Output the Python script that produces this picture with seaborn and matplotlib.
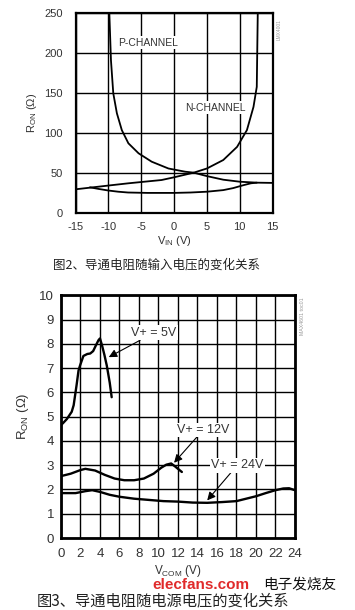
import numpy as np
import pandas as pd
import matplotlib.pyplot as plt
import seaborn as sns

# --- Fig.2: R_ON vs V_IN ---
p_vin = [-9.85, -9.6, -9.25, -8.7, -7.95, -6.95, -5.4, -3.4, -0.85, 1.7, 3.0, 5.0, 7.5, 10.0, 12.6, 15.0]
p_ron = [250, 191, 150, 125, 104, 87.5, 75, 64.5, 56, 52, 50.8, 46.5, 42, 39.5, 38.3, 38]
n_vin = [12.75, 12.6, 12.1, 11.1, 9.6, 7.5, 5.0, 3.0, 0.0, -1.9, -4.5, -6.95, -10.0, -12.0, -15.0]
n_ron = [250, 158, 133, 104, 83, 66.6, 56, 50.8, 45, 41.6, 39.5, 37.5, 34.7, 32.8, 30]
c_vin = [-12.8, -11.5, -10.0, -8.5, -7.0, -4.0, 0.0, 2.5, 5.0, 7.5, 9.0, 10.5, 11.7, 12.6]
c_ron = [32.5, 30.5, 28.5, 27, 26, 25.5, 25.5, 26, 27, 29, 31.5, 35, 37.5, 38.3]
vin_ticks = [-15, -10, -5, 0, 5, 10, 15]
ron_ticks = [0, 50, 100, 150, 200, 250]

# --- Fig.3: R_ON vs V_COM ---
v5_com = [0, 0.25, 0.6, 1.1, 1.3, 1.6, 1.8, 1.95, 2.3, 2.7, 3.0, 3.3, 3.6, 3.85, 4.0, 4.2, 4.45, 4.7, 5.0, 5.2]
v5_ron = [4.65, 4.75, 4.9, 5.2, 5.47, 6.3, 6.9, 7.1, 7.5, 7.58, 7.6, 7.7, 7.95, 8.15, 8.22, 7.95, 7.55, 7.1, 6.4, 5.8]
v12_com = [0, 1, 2, 2.5, 3.5, 4.5, 5.5, 6.5, 7.5, 8.5, 9.5, 10.3, 10.8, 11.3, 11.7, 12.0, 12.4]
v12_ron = [2.55, 2.65, 2.8, 2.85, 2.78, 2.6, 2.45, 2.38, 2.38, 2.45, 2.65, 2.9, 3.02, 3.07, 2.95, 2.85, 2.72]
v24_com = [0, 1.5, 2.5, 3.2, 4, 5, 6, 7.5, 9, 10.5, 12, 13.5, 15, 16.5, 18, 19, 20, 21, 22, 22.8, 23.4, 24]
v24_ron = [1.85, 1.85, 1.93, 1.97, 1.9, 1.78, 1.7, 1.62, 1.57, 1.52, 1.5, 1.46, 1.45, 1.48, 1.52, 1.62, 1.72, 1.85, 1.97, 2.04, 2.05, 1.97]
com_ticks = list(range(0, 25, 2))
ron2_ticks = list(range(0, 11))

sns.set_style("white")
plt.rcParams['font.family'] = ['Liberation Sans', 'Noto Sans CJK SC', 'DejaVu Sans']
plt.rcParams['mathtext.fontset'] = 'custom'
plt.rcParams['mathtext.rm'] = 'Liberation Sans'
plt.rcParams['mathtext.it'] = 'Liberation Sans'
plt.rcParams['axes.unicode_minus'] = False
txt = '#333333'

fig = plt.figure(figsize=(3.55, 6.1), dpi=100)
ax1 = fig.add_axes([0.2127, 0.6503, 0.555, 0.328])
ax2 = fig.add_axes([0.1718, 0.118, 0.659, 0.398])

# ---- top chart ----
for xs, ys in [(p_vin, p_ron), (n_vin, n_ron), (c_vin, c_ron)]:
    sns.lineplot(x=xs, y=ys, ax=ax1, sort=False, estimator=None, color='black', lw=1.3)
ax1.set_xlim(-15, 15)
ax1.set_ylim(0, 250)
ax1.set_xticks(vin_ticks)
ax1.set_yticks(ron_ticks)
ax1.grid(True, color='black', lw=1.0)
ax1.tick_params(length=0, labelsize=8, colors=txt, pad=9)
ax1.tick_params(axis='x', pad=6)
for s in ax1.spines.values():
    s.set_linewidth(1.6)
    s.set_color('black')
ax1.set_xlabel('V$_{\\mathrm{IN}}$ (V)', fontsize=8, color=txt, labelpad=2)
ax1.set_ylabel('R$_{\\mathrm{ON}}$ (Ω)', fontsize=8, color=txt, labelpad=4)
box = dict(facecolor='white', edgecolor='none', pad=1)
ax1.text(-8.5, 213, 'P-CHANNEL', fontsize=7.5, color=txt, va='center', bbox=box)
ax1.text(1.7, 132, 'N-CHANNEL', fontsize=7.5, color=txt, va='center', bbox=box)
ax1.text(1.02, 0.97, 'LMX4001', transform=ax1.transAxes, rotation=90, fontsize=3.5,
         color='#999999', va='top', ha='left')

# ---- bottom chart ----
for xs, ys in [(v5_com, v5_ron), (v12_com, v12_ron), (v24_com, v24_ron)]:
    sns.lineplot(x=xs, y=ys, ax=ax2, sort=False, estimator=None, color='black', lw=1.7)
ax2.set_xlim(0, 24)
ax2.set_ylim(0, 10)
ax2.set_xticks(com_ticks)
ax2.set_yticks(ron2_ticks)
ax2.grid(True, color='black', lw=1.0)
ax2.tick_params(length=0, labelsize=9.5, colors=txt, pad=5)
ax2.tick_params(axis='x', pad=7)
for s in ax2.spines.values():
    s.set_linewidth(2.0)
    s.set_color('black')
ax2.set_ylabel('R$_{\\mathrm{ON}}$ (Ω)', fontsize=9.5, color=txt, labelpad=6)
arrow = dict(arrowstyle='-|>', color='black', lw=0.8, mutation_scale=12, shrinkA=0, shrinkB=0)
ax2.annotate('V+ = 5V', xy=(4.9, 7.45), xytext=(7.2, 8.45), fontsize=9, color=txt,
             va='center', ha='left', arrowprops=arrow, bbox=box)
ax2.annotate('V+ = 12V', xy=(11.6, 3.1), xytext=(11.9, 4.45), fontsize=9, color=txt,
             va='center', ha='left', arrowprops=arrow, bbox=box)
ax2.annotate('V+ = 24V', xy=(15.0, 1.55), xytext=(15.4, 3.0), fontsize=9, color=txt,
             va='center', ha='left', arrowprops=arrow, bbox=box)
ax2.text(1.02, 0.99, 'MAX4601 toc01', transform=ax2.transAxes, rotation=90, fontsize=3.8,
         color='#999999', va='top', ha='left')

# ---- x label, captions & watermark ----
fig.text(178 / 355, 1 - 571 / 610, 'V$_{\\mathrm{COM}}$ (V)', fontsize=8.5, color=txt,
         va='center', ha='center')
fig.text(53 / 355, 1 - 265 / 610, '图2、导通电阻随输入电压的变化关系', fontsize=9,
         family=['Noto Sans CJK SC', 'DejaVu Sans'], va='center', ha='left', color='#222222')
fig.text(37 / 355, 1 - 601 / 610, '图3、导通电阻随电源电压的变化关系', fontsize=11,
         family=['Noto Sans CJK SC', 'DejaVu Sans'], va='center', ha='left', color='#222222')
fig.text(152 / 355, 1 - 585 / 610, 'elecfans.com', fontsize=11, fontweight='bold',
         family=['Liberation Sans', 'DejaVu Sans'], color='#e02a2a', va='center', ha='left')
fig.text(263 / 355, 1 - 585 / 610, '电子发烧友', fontsize=10.5,
         family=['Noto Sans CJK SC', 'DejaVu Sans'], color='#111111', va='center', ha='left')

fig.savefig('out.png', dpi=100, facecolor='white')
